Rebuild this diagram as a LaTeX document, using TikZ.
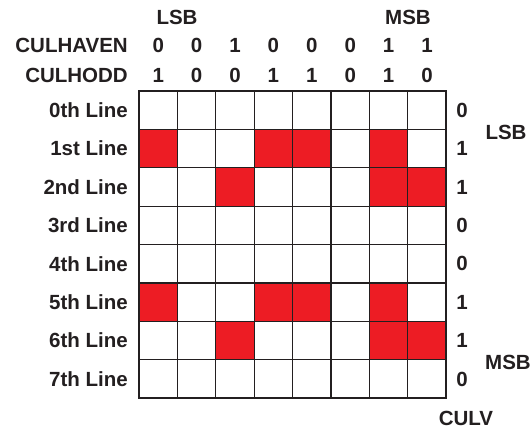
\documentclass[tikz,border=0pt]{standalone}
\usepackage{fontspec}
\setmainfont{Liberation Sans}
\definecolor{txt}{HTML}{231F20}
\definecolor{cellred}{HTML}{ED1C24}
\begin{document}
\begin{tikzpicture}[x=1pt,y=-1pt,
  lbl/.style={font=\fontsize{20.5}{24}\selectfont\bfseries, text=txt, inner sep=0pt},
  redcell/.style={fill=cellred},
  innerline/.style={draw=txt, line width=1.1pt},
  outerline/.style={draw=txt, line width=2.2pt}]
\useasboundingbox (0,0) rectangle (530,429);
\def\gx{139}\def\gy{91}\def\cw{38.4}
% red cells
\foreach \r/\c in {1/0,1/3,1/4,1/6,2/2,2/6,2/7,5/0,5/3,5/4,5/6,6/2,6/6,6/7}
  \fill[redcell] ({\gx+\c*\cw},{\gy+\r*\cw}) rectangle ++(\cw,\cw);
% grid lines
\foreach \i in {1,...,7}{
  \draw[innerline] ({\gx+\i*\cw},\gy) -- ({\gx+\i*\cw},{\gy+8*\cw});
  \draw[innerline] (\gx,{\gy+\i*\cw}) -- ({\gx+8*\cw},{\gy+\i*\cw});
}
\draw[outerline] (\gx,\gy) rectangle ({\gx+8*\cw},{\gy+8*\cw});
% header labels
\node[lbl] (lsbtop) at (177,17) {LSB};
\node[lbl] (msbtop) at (408,17) {MSB};
\node[lbl, anchor=east] (even) at (128,45) {CULHAVEN};
\node[lbl, anchor=east] (odd) at (128,75) {CULHODD};
\foreach \v [count=\c from 0] in {0,0,1,0,0,0,1,1}
  \node[lbl] (ev\c) at ({\gx+(\c+0.5)*\cw},45) {\v};
\foreach \v [count=\c from 0] in {1,0,0,1,1,0,1,0}
  \node[lbl] (od\c) at ({\gx+(\c+0.5)*\cw},75) {\v};
% row labels
\foreach \t [count=\r from 0] in {0th,1st,2nd,3rd,4th,5th,6th,7th}
  \node[lbl, anchor=east] (row\r) at (128,{\gy+(\r+0.5)*\cw}) {\t{} Line};
\foreach \v [count=\r from 0] in {0,1,1,0,0,1,1,0}
  \node[lbl] (culv\r) at (462,{\gy+(\r+0.5)*\cw}) {\v};
\node[lbl] (lsbside) at (506,132) {LSB};
\node[lbl] (msbside) at (508,362) {MSB};
\node[lbl] (culv) at (466,418) {CULV};
\end{tikzpicture}
\end{document}
